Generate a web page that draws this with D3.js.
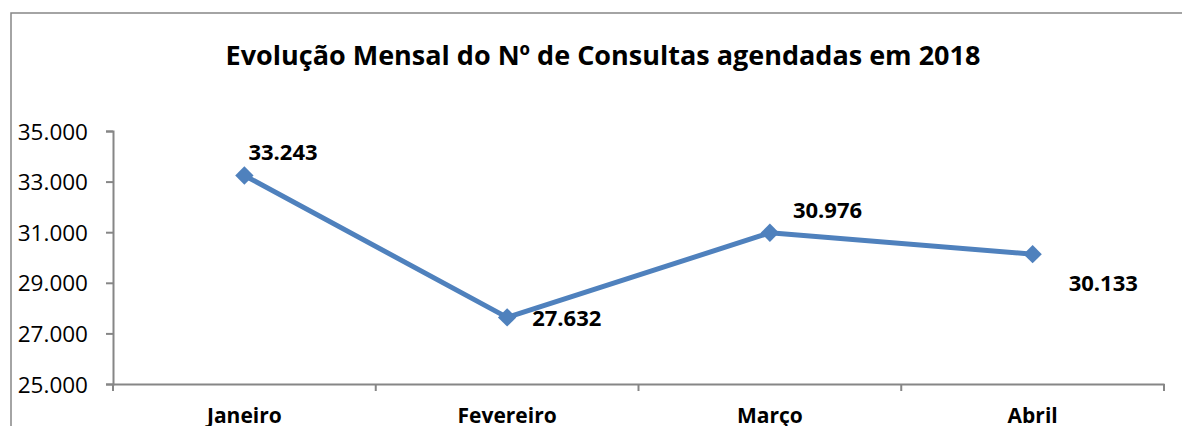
<!DOCTYPE html>
<html>
<head>
<meta charset="utf-8">
<script src="https://cdn.jsdelivr.net/npm/d3@7"></script>
<style>
  body { margin: 0; background: #fff; }
  svg text { font-family: "Open Sans", Lato, sans-serif; fill: #000; }
</style>
</head>
<body>
<svg id="chart" width="1182" height="426"></svg>
<script>
const months = ["Janeiro", "Fevereiro", "Março", "Abril"];
const consultas = [33243, 27632, 30976, 30133];
const yTicks = [25000, 27000, 29000, 31000, 33000, 35000];
const chartTitle = "Evolução Mensal do Nº de Consultas agendadas em 2018";

// where each value label sits relative to its point (Excel put them by hand)
const labelOffsets = [[4, -15], [25, 9], [23, -15], [36, 37]];

const width = 1182, height = 426;
const plot = { left: 113, right: 1164, top: 131, bottom: 384 };
const blue = "#4F81BD";
const axisGrey = "#868686";

const fmt = d3.formatLocale({ decimal: ",", thousands: ".", grouping: [3], currency: ["", "€"] }).format(",d");

const svg = d3.select("#chart");

// outer chart border (only top + left visible in the crop)
svg.append("rect")
  .attr("x", 11).attr("y", 13)
  .attr("width", 1182).attr("height", 500)
  .attr("fill", "none")
  .attr("stroke", axisGrey)
  .attr("stroke-width", 1.5);

svg.append("text")
  .attr("x", 603).attr("y", 65)
  .attr("text-anchor", "middle")
  .style("font-size", "27px")
  .style("font-weight", "bold")
  .text(chartTitle);

const x = d3.scaleBand().domain(months).range([plot.left, plot.right]);
const y = d3.scaleLinear().domain([25000, 35000]).range([plot.bottom, plot.top]);

// y axis
const yAxis = svg.append("g")
  .attr("transform", "translate(" + plot.left + ",0)")
  .call(d3.axisLeft(y).tickValues(yTicks).tickFormat(fmt).tickSize(7).tickPadding(18));
yAxis.select(".domain").attr("stroke", axisGrey).attr("stroke-width", 2);
yAxis.selectAll(".tick line").attr("stroke", axisGrey).attr("stroke-width", 2);
yAxis.selectAll(".tick text")
  .style("font-size", "22.5px")
  .attr("dy", "0.36em");

// x axis, ticks between categories like Excel
const xAxis = svg.append("g")
  .attr("transform", "translate(0," + plot.bottom + ")")
  .call(d3.axisBottom(x).tickSize(0).tickPadding(24));
xAxis.select(".domain").attr("stroke", axisGrey).attr("stroke-width", 2);
xAxis.selectAll(".tick text")
  .style("font-size", "21px")
  .style("font-weight", "bold");
xAxis.selectAll(".sep")
  .data(months.map(m => x(m)).concat([plot.right]))
  .enter().append("line")
  .attr("x1", d => d).attr("x2", d => d)
  .attr("y1", 0).attr("y2", 7)
  .attr("stroke", axisGrey).attr("stroke-width", 2);

const pts = months.map((m, i) => ({ m: m, v: consultas[i], cx: x(m) + x.bandwidth() / 2, cy: y(consultas[i]) }));

svg.append("path")
  .datum(pts)
  .attr("fill", "none")
  .attr("stroke", blue)
  .attr("stroke-width", 5)
  .attr("stroke-linejoin", "round")
  .attr("d", d3.line().x(d => d.cx).y(d => d.cy));

svg.selectAll(".marker")
  .data(pts)
  .enter().append("rect")
  .attr("class", "marker")
  .attr("x", -6.5).attr("y", -6.5)
  .attr("width", 13).attr("height", 13)
  .attr("fill", blue)
  .attr("transform", d => "translate(" + d.cx + "," + d.cy + ") rotate(45)");

svg.selectAll(".lbl")
  .data(pts)
  .enter().append("text")
  .attr("class", "lbl")
  .attr("x", (d, i) => d.cx + labelOffsets[i][0])
  .attr("y", (d, i) => d.cy + labelOffsets[i][1])
  .style("font-size", "22px")
  .style("font-weight", "bold")
  .text(d => fmt(d.v));
</script>
</body>
</html>
